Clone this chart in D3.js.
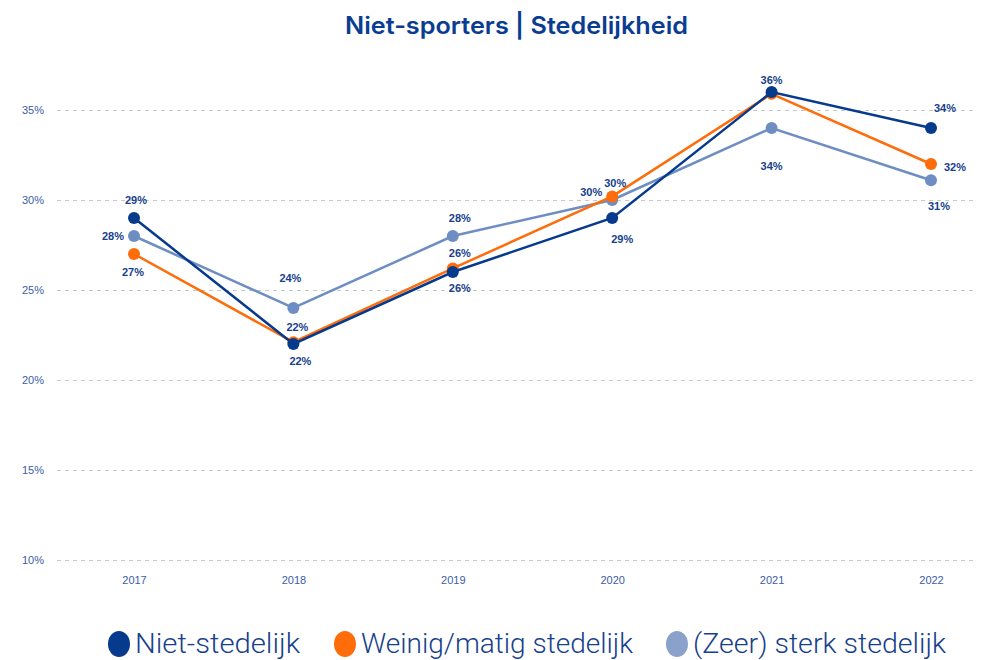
<!DOCTYPE html>
<html>
<head>
<meta charset="utf-8">
<script src="https://cdn.jsdelivr.net/npm/d3@7"></script>
<style>
  body { margin: 0; background: #fff; }
  svg { display: block; }
</style>
</head>
<body>
<div id="chart"></div>
<script>
// data
const years = ['2017', '2018', '2019', '2020', '2021', '2022'];
const nietStedelijk = [29, 22, 26, 29, 36, 34];
const weinigStedelijk = [27, 22.1, 26.2, 30.2, 35.9, 32];
const sterkStedelijk = [28, 24, 28, 30, 34, 31.1];
const seriesNames = ['Niet-stedelijk', 'Weinig/matig stedelijk', '(Zeer) sterk stedelijk'];
const yTicks = [10, 15, 20, 25, 30, 35];

// label nudges [dx, dy] from each dot, null = label hidden
const labelNudge = [
  [[2, -18], [7, 17], [7, 16], [10, 21], [0, -12], [14, -20]],
  [[-1, 18], [4, -15], [7, -15], [3, -13], null, [24, 3]],
  [[-21, 0], [-3, -30], [7, -18], [-21, -8], [0, 38], [8, 26]]
];
const colors = ['#063a8c', '#ff6c0a', '#6e8ec3'];
const legendColors = ['#063a8c', '#ff6c0a', '#8aa2cb'];
const legendWidths = [165, 272, 253];

const w = 993, h = 660;
const svg = d3.select('#chart').append('svg')
  .attr('width', w)
  .attr('height', h);

const x = d3.scalePoint().domain(years).range([134, 931]);
const y = d3.scaleLinear().domain([10, 40]).range([560, 20]);

// title
svg.append('text')
  .attr('x', 345).attr('y', 34)
  .attr('textLength', 343)
  .attr('lengthAdjust', 'spacingAndGlyphs')
  .style('font-family', 'Inter, sans-serif')
  .style('font-weight', 600)
  .style('font-size', '24px')
  .style('fill', '#0a3d91')
  .text('Niet-sporters | Stedelijkheid');

// gridlines + y labels
const yAxis = svg.append('g')
  .attr('transform', 'translate(57,0)')
  .call(d3.axisLeft(y).tickValues(yTicks).tickSize(-918).tickFormat(d => d + '%'));
yAxis.select('.domain').remove();
yAxis.selectAll('.tick line')
  .attr('stroke', '#c8c8c8')
  .attr('stroke-dasharray', '4,4');
yAxis.selectAll('.tick text')
  .attr('x', -13)
  .style('font-family', '"Liberation Sans", Arial, sans-serif')
  .style('font-size', '11px')
  .style('fill', '#3b5da6');

// x labels
const xAxis = svg.append('g')
  .attr('transform', 'translate(0,560)')
  .call(d3.axisBottom(x).tickSize(0));
xAxis.select('.domain').remove();
xAxis.selectAll('.tick text')
  .attr('dy', '1.9em')
  .style('font-family', '"Liberation Sans", Arial, sans-serif')
  .style('font-size', '11px')
  .style('fill', '#3b5da6');

const allSeries = [nietStedelijk, weinigStedelijk, sterkStedelijk];
const line = d3.line().x((d, i) => x(years[i])).y(d => y(d));

// draw back to front so dark line stays on top
[2, 1, 0].forEach(s => {
  const vals = allSeries[s];
  const g = svg.append('g');
  g.append('path')
    .datum(vals)
    .attr('d', line)
    .attr('fill', 'none')
    .attr('stroke', colors[s])
    .attr('stroke-width', 2.5);
  g.selectAll('circle')
    .data(vals)
    .join('circle')
    .attr('cx', (d, i) => x(years[i]))
    .attr('cy', d => y(d))
    .attr('r', 6)
    .attr('fill', colors[s]);
});

// value labels
allSeries.forEach((vals, s) => {
  vals.forEach((v, i) => {
    const n = labelNudge[s][i];
    if (!n) return;
    svg.append('text')
      .attr('x', x(years[i]) + n[0])
      .attr('y', y(v) + n[1])
      .attr('dy', '0.36em')
      .attr('text-anchor', 'middle')
      .style('font-family', '"Liberation Sans", Arial, sans-serif')
      .style('font-weight', 'bold')
      .style('font-size', '11px')
      .style('fill', '#173f8c')
      .text(Math.round(v) + '%');
  });
});

// legend
const legX = [119, 345, 677];
const legend = svg.append('g');
seriesNames.forEach((name, i) => {
  legend.append('ellipse')
    .attr('cx', legX[i]).attr('cy', 644).attr('rx', 11).attr('ry', 13)
    .attr('fill', legendColors[i]);
  legend.append('text')
    .attr('x', legX[i] + 16).attr('y', 653)
    .attr('textLength', legendWidths[i])
    .attr('lengthAdjust', 'spacingAndGlyphs')
    .style('font-family', 'Roboto, sans-serif')
    .style('font-weight', 300)
    .style('font-size', '28px')
    .style('fill', '#173f8c')
    .text(name);
});
</script>
</body>
</html>
